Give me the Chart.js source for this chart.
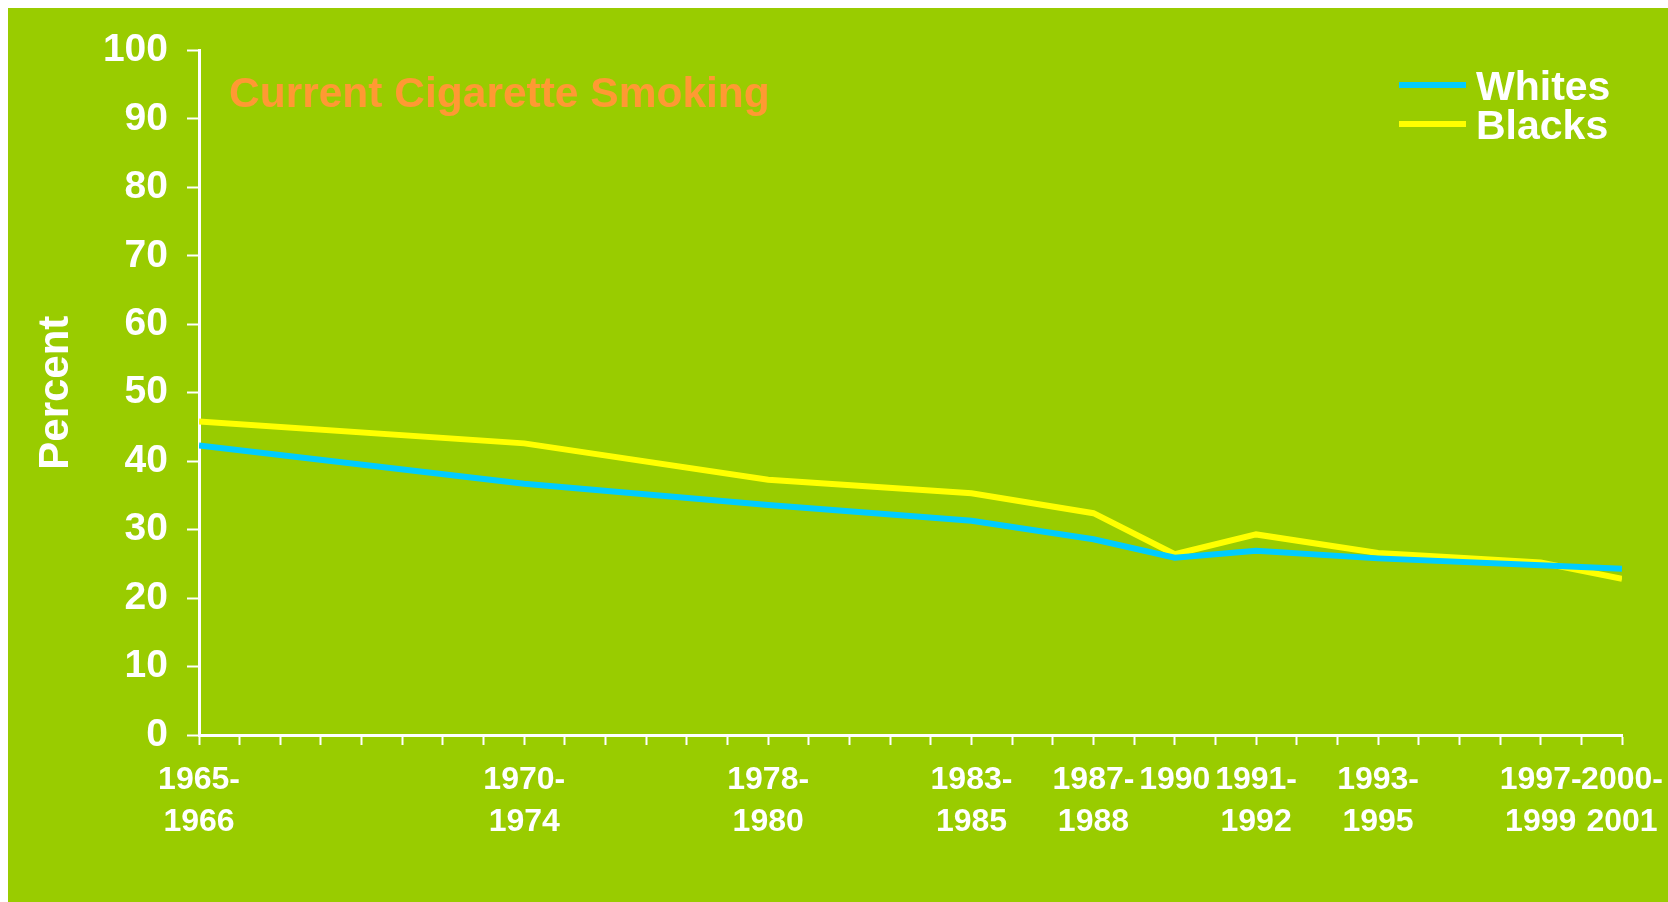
<!DOCTYPE html>
<html>
<head>
<meta charset="utf-8">
<script src="https://cdn.jsdelivr.net/npm/chart.js@4.4.1/dist/chart.umd.min.js"></script>
<style>
  html, body { margin: 0; padding: 0; background: #ffffff; }
  #wrap { position: absolute; left: 8px; top: 8px; width: 1660px; height: 894px; background: #99cc00; }
  canvas { display: block; }
</style>
</head>
<body>
<div id="wrap"><canvas id="chart" width="1660" height="894"></canvas></div>
<script>
// survey periods and where they sit on the 36-slot time axis
const periodLabels = [['1965-', '1966'], ['1970-', '1974'], ['1978-', '1980'], ['1983-', '1985'],
  ['1987-', '1988'], '1990', ['1991-', '1992'], ['1993-', '1995'], ['1997-', '1999'], ['2000-', '2001']];
const periodSlots = [0, 8, 14, 19, 22, 24, 26, 29, 33, 35];

const whites = [42.3, 36.7, 33.6, 31.3, 28.6, 25.9, 26.9, 25.8, 24.8, 24.3];
const blacks = [45.8, 42.6, 37.3, 35.3, 32.4, 26.4, 29.3, 26.6, 25.2, 22.8];

const yTicks = { min: 0, max: 100, step: 5 };

const FONT = "'Liberation Sans', Arial, sans-serif";

function points(values) {
  return values.map((v, i) => ({ x: periodSlots[i], y: v }));
}

// title text + legend drawn on top of the plot
const overlay = {
  id: 'overlay',
  afterDraw(chart) {
    const ctx = chart.ctx;
    ctx.save();
    ctx.fillStyle = '#ff9933';
    ctx.font = 'bold 42.5px ' + FONT;
    ctx.textBaseline = 'alphabetic';
    ctx.fillText('Current Cigarette Smoking', 221, 99);

    ctx.font = 'bold 41px ' + FONT;
    chart.data.datasets.forEach((ds, i) => {
      const y = 77 + i * 39;
      ctx.strokeStyle = ds.borderColor;
      ctx.lineWidth = 6;
      ctx.beginPath();
      ctx.moveTo(1391, y);
      ctx.lineTo(1458, y);
      ctx.stroke();
      ctx.fillStyle = '#ffffff';
      ctx.fillText(ds.label, 1468, y + 15);
    });
    ctx.restore();
  }
};

new Chart(document.getElementById('chart'), {
  type: 'line',
  data: {
    datasets: [
      { label: 'Whites', data: points(whites), borderColor: '#00ccff', borderWidth: 6, pointRadius: 0, tension: 0 },
      { label: 'Blacks', data: points(blacks), borderColor: '#ffff00', borderWidth: 6, pointRadius: 0, tension: 0 }
    ]
  },
  options: {
    responsive: false,
    animation: false,
    layout: { padding: { top: 42, right: 46, left: 0, bottom: 0 } },
    plugins: { legend: { display: false }, tooltip: { enabled: false } },
    scales: {
      x: {
        type: 'linear',
        min: 0,
        max: 35,
        afterFit(scale) { scale.height = 167; scale.paddingLeft = 0; scale.paddingRight = 0; },
        border: { color: '#ffffff', width: 3 },
        grid: { drawOnChartArea: false, drawTicks: true, tickLength: 10, tickColor: '#ffffff', tickWidth: 2 },
        ticks: {
          stepSize: 1,
          autoSkip: false,
          maxRotation: 0,
          padding: 14,
          color: '#ffffff',
          font: { family: FONT, size: 32, weight: 'bold', lineHeight: 1.31 },
          callback(v) {
            const i = periodSlots.indexOf(v);
            return i >= 0 ? periodLabels[i] : '';
          }
        }
      },
      y: {
        min: yTicks.min,
        max: yTicks.max,
        afterFit(scale) { scale.width = 191; },
        border: { color: '#ffffff', width: 3 },
        grid: { drawOnChartArea: false, drawTicks: true, tickLength: 12, tickColor: '#ffffff', tickWidth: 2 },
        ticks: {
          stepSize: yTicks.step,
          padding: 19,
          color: '#ffffff',
          font: { family: FONT, size: 39, weight: 'bold' },
          callback(v) { return v % 10 === 0 ? v : ''; }
        },
        title: {
          display: true,
          text: 'Percent',
          color: '#ffffff',
          padding: { top: 23, bottom: 0 },
          font: { family: FONT, size: 42, weight: 'bold' }
        }
      }
    }
  },
  plugins: [overlay]
});
</script>
</body>
</html>
